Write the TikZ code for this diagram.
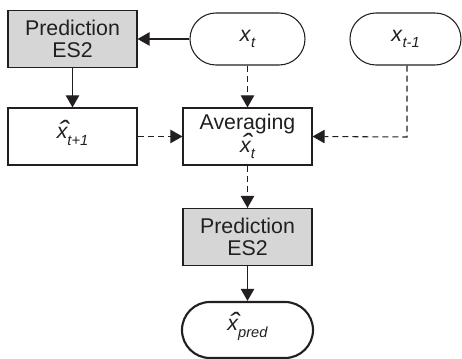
\documentclass[tikz,border=0pt]{standalone}
\usepackage{fontspec}
\setmainfont{Liberation Sans}
\usetikzlibrary{arrows.meta}
\definecolor{ln}{HTML}{231F20}
\definecolor{boxgray}{HTML}{D6D6D6}
\newcommand{\sub}[1]{\raisebox{-0.3em}{\fontsize{11}{11}\selectfont\itshape #1}}
\newcommand{\hx}{{\itshape\setbox0\hbox{x}\rlap{\hbox to \wd0{\hss\hspace{0.15em}\smash{\raisebox{-0.08em}{\scalebox{1.5}[1.3]{\char"02C6}}}\hss}}x}}
\begin{document}
\begin{tikzpicture}[x=0.75pt,y=-0.75pt,
  every node/.style={font=\fontsize{16}{17}\selectfont, text=ln},
  box/.style={draw=ln, line width=0.8pt, rectangle, minimum width=96.75pt, minimum height=42.75pt, inner sep=0pt, align=center},
  grey/.style={box, fill=boxgray},
  pill/.style={draw=ln, line width=0.8pt, rectangle, rounded corners=19.5pt, minimum width=86.25pt, minimum height=39pt, inner sep=0pt, align=center},
  conn/.style={draw=ln, line width=0.8pt, -{Triangle[length=9pt,width=10pt]}},
  dconn/.style={conn, dash pattern=on 4.5pt off 3pt}]
\useasboundingbox (0,0) rectangle (462,359);
\node[grey] (p1) at (72.5,39) {Prediction\\[-1pt]ES2};
\node[pill] (xt) at (247.5,39) {\textit{x}\sub{t}};
\node[pill, minimum width=83.25pt] (xt1) at (405.5,39) {\textit{x}\sub{t-1}};
\node[box] (xh1) at (72.5,136.5) {\hx\sub{t+1}};
\node[box] (avg) at (247.5,136.5) {Averaging\\[0pt]\hx\sub{t}};
\node[grey] (p2) at (247.5,237) {Prediction\\[-1pt]ES2};
\node[pill, minimum width=98.25pt, minimum height=42pt, rounded corners=21pt, line width=1.6pt] (pred) at (247.5,330) {\hx\sub{pred}};
\coordinate (c1) at (407,137);
\draw[conn] (xt.west) -- (xt.west -| p1.east);
\draw[conn] (p1.south) -- (xh1.north);
\draw[dconn] (xt.south) -- (avg.north);
\draw[dconn] (xh1.east) -- (avg.west);
\draw[dconn] (xt1.south -| c1) -- (c1) -- (avg.east);
\draw[dconn] (avg.south) -- (p2.north);
\draw[conn] (p2.south) -- (pred.north);
\end{tikzpicture}
\end{document}
